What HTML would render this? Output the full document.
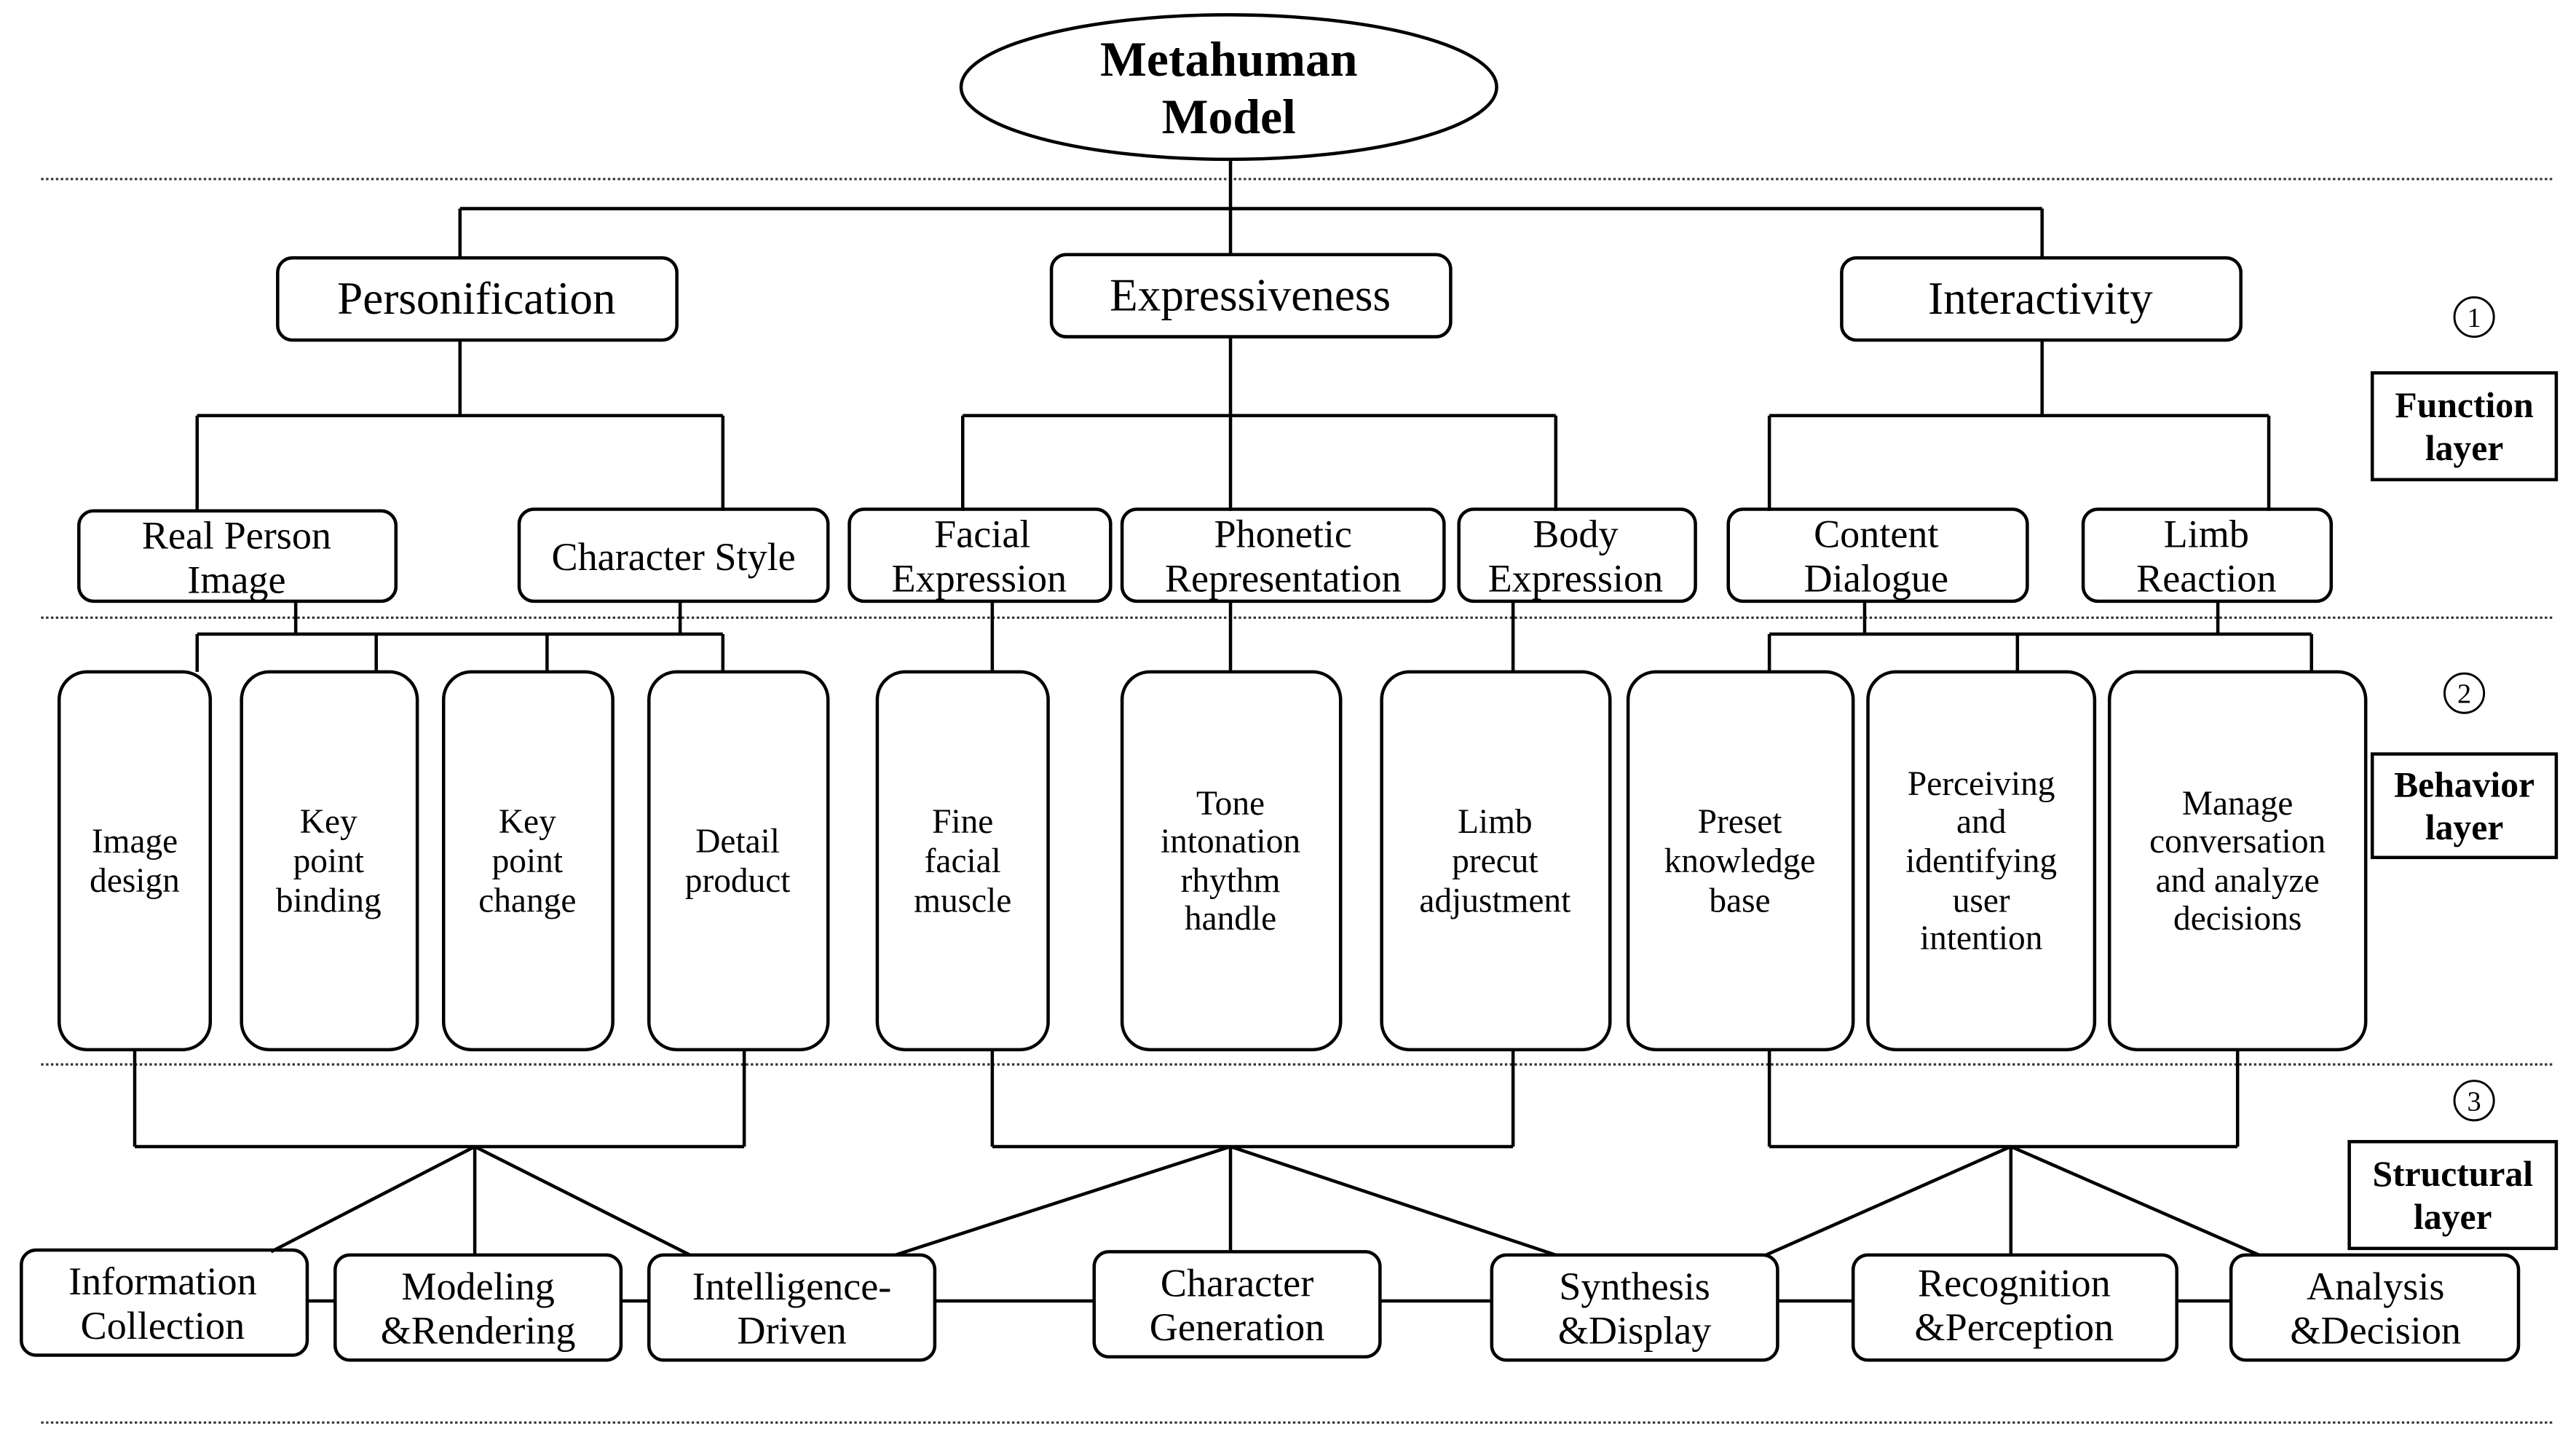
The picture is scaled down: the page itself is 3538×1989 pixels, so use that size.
<!DOCTYPE html>
<html><head><meta charset="utf-8"><style>html,body{margin:0;padding:0;background:#fff}svg{display:block}</style></head>
<body>
<svg width="3538" height="1989" viewBox="0 0 1568 881.5" xmlns="http://www.w3.org/2000/svg" font-family="'Liberation Serif', serif" text-anchor="middle">
<rect width="1568" height="882" fill="#fff"/>
<g stroke="#333" stroke-width="1.4" stroke-dasharray="1.5,1.5">
<line x1="25" y1="109" x2="1555" y2="109"/>
<line x1="25" y1="376" x2="1555" y2="376"/>
<line x1="25" y1="648" x2="1555" y2="648"/>
<line x1="25" y1="866" x2="1555" y2="866"/>
</g>
<g stroke="#000" stroke-width="2" fill="none">
<ellipse cx="748" cy="53" rx="163" ry="44"/>
<path d="M749 97V155M280 127H1243M280 127V157M1243 127V157"/>
<path d="M280 207V253M120 253H440M120 253V311M440 253V311"/>
<path d="M749 205V311M586 253H947M586 253V311M947 253V311"/>
<path d="M1243 207V253M1077 253H1381M1077 253V311M1381 253V311"/>
<path d="M180 366V386M414 366V386M120 386H440M120 386V409M229 386V409M333 386V409M440 386V409"/>
<path d="M604 366V409M749 366V409M921 366V409"/>
<path d="M1135 366V386M1350 366V386M1077 386H1407M1077 386V409M1228 386V409M1407 386V409"/>
<path d="M82 639V698M453 639V698M82 698H453M289 698L165 762M289 698V764M289 698L420 764"/>
<path d="M604 639V698M921 639V698M604 698H921M749 698L545 764M749 698V762M749 698L947 764"/>
<path d="M1077 639V698M1362 639V698M1077 698H1362M1224 698L1075 764M1224 698V764M1224 698L1375 764"/>
<path d="M187 792H204M378 792H395M569 792H666M840 792H908M1082 792H1128M1325 792H1358"/>
<rect x="169" y="157" width="243" height="50" rx="9"/>
<rect x="640" y="155" width="243" height="50" rx="9"/>
<rect x="1121" y="157" width="243" height="50" rx="9"/>
<rect x="48" y="311" width="193" height="55" rx="9"/>
<rect x="316" y="310" width="188" height="56" rx="9"/>
<rect x="517" y="310" width="159" height="56" rx="9"/>
<rect x="683" y="310" width="196" height="56" rx="9"/>
<rect x="888" y="310" width="144" height="56" rx="9"/>
<rect x="1052" y="310" width="182" height="56" rx="9"/>
<rect x="1268" y="310" width="151" height="56" rx="9"/>
<rect x="36" y="409" width="92" height="230" rx="17"/>
<rect x="147" y="409" width="107" height="230" rx="17"/>
<rect x="270" y="409" width="103" height="230" rx="17"/>
<rect x="395" y="409" width="109" height="230" rx="17"/>
<rect x="534" y="409" width="104" height="230" rx="17"/>
<rect x="683" y="409" width="133" height="230" rx="17"/>
<rect x="841" y="409" width="139" height="230" rx="17"/>
<rect x="991" y="409" width="137" height="230" rx="17"/>
<rect x="1137" y="409" width="138" height="230" rx="17"/>
<rect x="1284" y="409" width="156" height="230" rx="17"/>
<rect x="13" y="761" width="174" height="64" rx="9"/>
<rect x="204" y="764" width="174" height="64" rx="9"/>
<rect x="395" y="764" width="174" height="64" rx="9"/>
<rect x="666" y="762" width="174" height="64" rx="9"/>
<rect x="908" y="764" width="174" height="64" rx="9"/>
<rect x="1128" y="764" width="197" height="64" rx="9"/>
<rect x="1358" y="764" width="175" height="64" rx="9"/>
<rect x="1444" y="227" width="112" height="65"/>
<rect x="1444" y="459" width="112" height="63"/>
<rect x="1430" y="695" width="126" height="65"/>
<circle cx="1506" cy="193" r="12" stroke-width="1.3"/>
<circle cx="1500" cy="422" r="12" stroke-width="1.3"/>
<circle cx="1506" cy="670" r="12" stroke-width="1.3"/>
</g>
<g fill="#000">
<text font-weight="bold" font-size="30"><tspan x="748" y="46">Metahuman</tspan><tspan x="748" y="81">Model</tspan></text>
<text font-size="17" x="1506" y="199">1</text><text font-size="17" x="1500" y="428">2</text><text font-size="17" x="1506" y="676">3</text>
<g font-size="22" font-weight="bold"><text x="1500" y="254">Function</text><text x="1500" y="280">layer</text>
<text x="1500" y="485">Behavior</text><text x="1500" y="511">layer</text>
<text x="1493" y="722">Structural</text><text x="1493" y="748">layer</text></g>
<g font-size="28"><text x="290" y="191">Personification</text><text x="761" y="189">Expressiveness</text><text x="1242" y="191">Interactivity</text></g>
<g font-size="24">
<text x="144" y="334">Real Person</text><text x="144" y="361">Image</text>
<text x="410" y="347">Character Style</text>
<text x="598" y="333">Facial</text><text x="596" y="360">Expression</text>
<text x="781" y="333">Phonetic</text><text x="781" y="360">Representation</text>
<text x="959" y="333">Body</text><text x="959" y="360">Expression</text>
<text x="1142" y="333">Content</text><text x="1142" y="360">Dialogue</text>
<text x="1343" y="333">Limb</text><text x="1343" y="360">Reaction</text>
<text x="99" y="788">Information</text><text x="99" y="815">Collection</text>
<text x="291" y="791">Modeling</text><text x="291" y="818">&amp;Rendering</text>
<text x="482" y="791">Intelligence-</text><text x="482" y="818">Driven</text>
<text x="753" y="789">Character</text><text x="753" y="816">Generation</text>
<text x="995" y="791">Synthesis</text><text x="995" y="818">&amp;Display</text>
<text x="1226" y="789">Recognition</text><text x="1226" y="816">&amp;Perception</text>
<text x="1446" y="791">Analysis</text><text x="1446" y="818">&amp;Decision</text>
</g>
<g font-size="21">
<text x="82" y="519">Image</text><text x="82" y="543">design</text>
<text x="200" y="507">Key</text><text x="200" y="531">point</text><text x="200" y="555">binding</text>
<text x="321" y="507">Key</text><text x="321" y="531">point</text><text x="321" y="555">change</text>
<text x="449" y="519">Detail</text><text x="449" y="543">product</text>
<text x="586" y="507">Fine</text><text x="586" y="531">facial</text><text x="586" y="555">muscle</text>
<text x="749" y="496">Tone</text><text x="749" y="519">intonation</text><text x="749" y="543">rhythm</text><text x="749" y="566">handle</text>
<text x="910" y="507">Limb</text><text x="910" y="531">precut</text><text x="910" y="555">adjustment</text>
<text x="1059" y="507">Preset</text><text x="1059" y="531">knowledge</text><text x="1059" y="555">base</text>
<text x="1206" y="484">Perceiving</text><text x="1206" y="507">and</text><text x="1206" y="531">identifying</text><text x="1206" y="555">user</text><text x="1206" y="578">intention</text>
<text x="1362" y="496">Manage</text><text x="1362" y="519">conversation</text><text x="1362" y="543">and analyze</text><text x="1362" y="566">decisions</text>
</g>
</g>
</svg>
</body></html>
